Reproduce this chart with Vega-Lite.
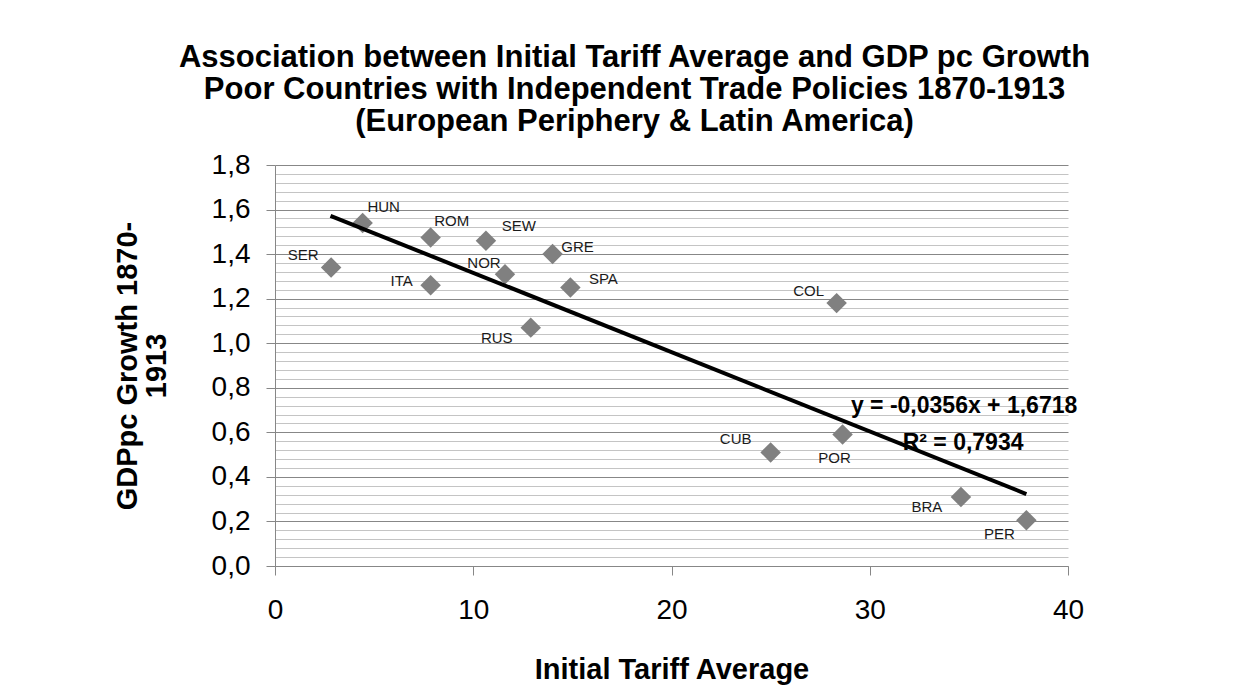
{
  "$schema": "https://vega.github.io/schema/vega-lite/v6.json",
  "width": 793,
  "height": 401,
  "autosize": {"type": "none"},
  "padding": {"left": 275, "top": 165, "right": 169, "bottom": 131},
  "background": "white",
  "config": {
    "locale": {"number": {"decimal": ",", "thousands": ".", "grouping": [3], "currency": ["", " €"]}},
    "view": {"stroke": null},
    "font": "Liberation Sans",
    "axis": {
      "labelFont": "Liberation Sans", "labelColor": "#000000", "labelFontSize": 28,
      "titleFont": "Liberation Sans", "titleColor": "#000000", "titleFontWeight": "bold", "titleFontSize": 29,
      "domainColor": "#878787", "tickColor": "#878787", "tickSize": 9,
      "gridColor": "#878787", "gridOpacity": 1, "labelFlush": false
    },
    "axisX": {"grid": false, "labelPadding": 21, "titlePadding": 31, "tickCount": 5}
  },
  "title": {
    "text": ["Association between Initial Tariff Average and GDP pc Growth", "Poor Countries with Independent Trade Policies 1870-1913", "(European Periphery & Latin America)"],
    "font": "Liberation Sans", "fontSize": 31, "fontWeight": "bold", "color": "#000000",
    "anchor": "middle", "frame": "group", "dx": -37, "offset": 13, "lineHeight": 32
  },
  "datasets": {
    "countries": [
      {"country": "SER", "tariff": 2.83, "growth": 1.34},
      {"country": "HUN", "tariff": 4.42, "growth": 1.54},
      {"country": "ITA", "tariff": 7.85, "growth": 1.26},
      {"country": "ROM", "tariff": 7.85, "growth": 1.475},
      {"country": "SEW", "tariff": 10.64, "growth": 1.46},
      {"country": "NOR", "tariff": 11.6, "growth": 1.31},
      {"country": "RUS", "tariff": 12.9, "growth": 1.07},
      {"country": "GRE", "tariff": 14.0, "growth": 1.4},
      {"country": "SPA", "tariff": 14.9, "growth": 1.25},
      {"country": "CUB", "tariff": 25.0, "growth": 0.51},
      {"country": "COL", "tariff": 28.33, "growth": 1.18},
      {"country": "POR", "tariff": 28.63, "growth": 0.59},
      {"country": "BRA", "tariff": 34.6, "growth": 0.31},
      {"country": "PER", "tariff": 37.9, "growth": 0.205}
    ],
    "trend": [
      {"tariff": 2.8, "growth": 1.572},
      {"tariff": 37.9, "growth": 0.323}
    ],
    "equation": [
      {"label": "y = -0,0356x + 1,6718", "tariff": 29.05, "growth": 0.718},
      {"label": "R² = 0,7934", "tariff": 31.66, "growth": 0.551}
    ]
  },
  "layer": [
    {
      "data": {"name": "countries"},
      "mark": {"type": "point", "shape": "diamond", "filled": true, "color": "#808080", "opacity": 1, "size": 420},
      "encoding": {
        "x": {"field": "tariff", "type": "quantitative", "scale": {"domain": [0, 40], "nice": false, "zero": false}, "title": "Initial Tariff Average"},
        "y": {"field": "growth", "type": "quantitative", "scale": {"domain": [0, 1.8], "nice": false, "zero": false},
          "axis": {"values": [0, 0.2, 0.4, 0.6, 0.8, 1, 1.2, 1.4, 1.6, 1.8], "format": ".1f", "grid": true, "labelPadding": 16,
            "title": ["GDPpc Growth 1870-", "1913"], "titleLineHeight": 29, "titlePadding": 40}}
      }
    },
    {
      "data": {"name": "countries"},
      "transform": [{"filter": {"field": "country", "oneOf": ["HUN", "ROM"]}}],
      "mark": {"type": "text", "fontSize": 15, "color": "#1a1a1a", "align": "center", "baseline": "middle", "dx": 21, "dy": -16},
      "encoding": {"x": {"field": "tariff", "type": "quantitative"}, "y": {"field": "growth", "type": "quantitative", "axis": null}, "text": {"field": "country"}}
    },
    {
      "data": {"name": "countries"},
      "transform": [{"filter": {"field": "country", "oneOf": ["SEW"]}}],
      "mark": {"type": "text", "fontSize": 15, "color": "#1a1a1a", "align": "center", "baseline": "middle", "dx": 33, "dy": -15},
      "encoding": {"x": {"field": "tariff", "type": "quantitative"}, "y": {"field": "growth", "type": "quantitative", "axis": null}, "text": {"field": "country"}}
    },
    {
      "data": {"name": "countries"},
      "transform": [{"filter": {"field": "country", "oneOf": ["GRE"]}}],
      "mark": {"type": "text", "fontSize": 15, "color": "#1a1a1a", "align": "center", "baseline": "middle", "dx": 25, "dy": -7},
      "encoding": {"x": {"field": "tariff", "type": "quantitative"}, "y": {"field": "growth", "type": "quantitative", "axis": null}, "text": {"field": "country"}}
    },
    {
      "data": {"name": "countries"},
      "transform": [{"filter": {"field": "country", "oneOf": ["SPA"]}}],
      "mark": {"type": "text", "fontSize": 15, "color": "#1a1a1a", "align": "center", "baseline": "middle", "dx": 33, "dy": -9},
      "encoding": {"x": {"field": "tariff", "type": "quantitative"}, "y": {"field": "growth", "type": "quantitative", "axis": null}, "text": {"field": "country"}}
    },
    {
      "data": {"name": "countries"},
      "transform": [{"filter": {"field": "country", "oneOf": ["SER", "COL"]}}],
      "mark": {"type": "text", "fontSize": 15, "color": "#1a1a1a", "align": "center", "baseline": "middle", "dx": -28, "dy": -12},
      "encoding": {"x": {"field": "tariff", "type": "quantitative"}, "y": {"field": "growth", "type": "quantitative", "axis": null}, "text": {"field": "country"}}
    },
    {
      "data": {"name": "countries"},
      "transform": [{"filter": {"field": "country", "oneOf": ["CUB"]}}],
      "mark": {"type": "text", "fontSize": 15, "color": "#1a1a1a", "align": "center", "baseline": "middle", "dx": -35, "dy": -13},
      "encoding": {"x": {"field": "tariff", "type": "quantitative"}, "y": {"field": "growth", "type": "quantitative", "axis": null}, "text": {"field": "country"}}
    },
    {
      "data": {"name": "countries"},
      "transform": [{"filter": {"field": "country", "oneOf": ["NOR"]}}],
      "mark": {"type": "text", "fontSize": 15, "color": "#1a1a1a", "align": "center", "baseline": "middle", "dx": -21, "dy": -11},
      "encoding": {"x": {"field": "tariff", "type": "quantitative"}, "y": {"field": "growth", "type": "quantitative", "axis": null}, "text": {"field": "country"}}
    },
    {
      "data": {"name": "countries"},
      "transform": [{"filter": {"field": "country", "oneOf": ["ITA"]}}],
      "mark": {"type": "text", "fontSize": 15, "color": "#1a1a1a", "align": "center", "baseline": "middle", "dx": -29, "dy": -4},
      "encoding": {"x": {"field": "tariff", "type": "quantitative"}, "y": {"field": "growth", "type": "quantitative", "axis": null}, "text": {"field": "country"}}
    },
    {
      "data": {"name": "countries"},
      "transform": [{"filter": {"field": "country", "oneOf": ["RUS", "BRA"]}}],
      "mark": {"type": "text", "fontSize": 15, "color": "#1a1a1a", "align": "center", "baseline": "middle", "dx": -34, "dy": 10},
      "encoding": {"x": {"field": "tariff", "type": "quantitative"}, "y": {"field": "growth", "type": "quantitative", "axis": null}, "text": {"field": "country"}}
    },
    {
      "data": {"name": "countries"},
      "transform": [{"filter": {"field": "country", "oneOf": ["PER"]}}],
      "mark": {"type": "text", "fontSize": 15, "color": "#1a1a1a", "align": "center", "baseline": "middle", "dx": -27, "dy": 14},
      "encoding": {"x": {"field": "tariff", "type": "quantitative"}, "y": {"field": "growth", "type": "quantitative", "axis": null}, "text": {"field": "country"}}
    },
    {
      "data": {"name": "countries"},
      "transform": [{"filter": {"field": "country", "oneOf": ["POR"]}}],
      "mark": {"type": "text", "fontSize": 15, "color": "#1a1a1a", "align": "center", "baseline": "middle", "dx": -8, "dy": 23},
      "encoding": {"x": {"field": "tariff", "type": "quantitative"}, "y": {"field": "growth", "type": "quantitative", "axis": null}, "text": {"field": "country"}}
    },
    {
      "data": {"name": "equation"},
      "mark": {"type": "text", "fontSize": 23, "fontWeight": "bold", "color": "#000000", "align": "left", "baseline": "middle"},
      "encoding": {"x": {"field": "tariff", "type": "quantitative"}, "y": {"field": "growth", "type": "quantitative", "axis": null}, "text": {"field": "label"}}
    },
    {
      "data": {"name": "trend"},
      "mark": {"type": "line", "color": "#000000", "strokeWidth": 4},
      "encoding": {
        "x": {"field": "tariff", "type": "quantitative"},
        "y": {"field": "growth", "type": "quantitative",
          "axis": {"orient": "left", "values": [0.04, 0.08, 0.12, 0.16, 0.24, 0.28, 0.32, 0.36, 0.44, 0.48, 0.52, 0.56, 0.64, 0.68, 0.72, 0.76, 0.84, 0.88, 0.92, 0.96, 1.04, 1.08, 1.12, 1.16, 1.24, 1.28, 1.32, 1.36, 1.44, 1.48, 1.52, 1.56, 1.64, 1.68, 1.72, 1.76],
            "grid": true, "gridColor": "#c4c4c4", "labels": false, "ticks": false, "domain": false, "title": null}}
      }
    }
  ],
  "resolve": {"axis": {"y": "independent"}}
}
